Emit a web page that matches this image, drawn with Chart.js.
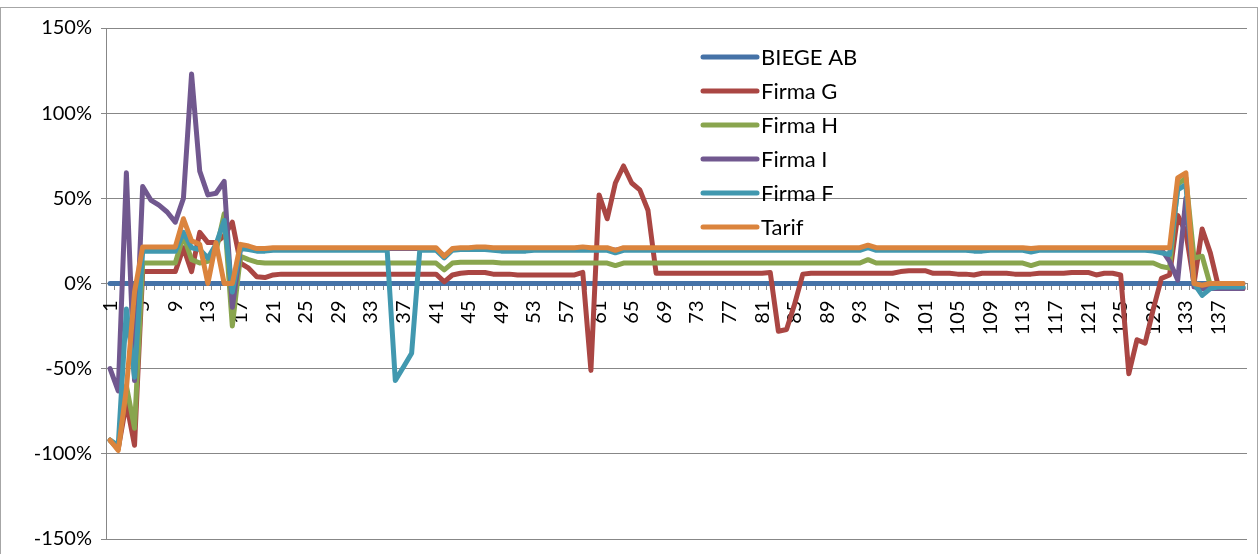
<!DOCTYPE html>
<html>
<head>
<meta charset="utf-8">
<script src="https://cdn.jsdelivr.net/npm/chart.js@4/dist/chart.umd.min.js"></script>
<style>
  html, body { margin: 0; padding: 0; background: #ffffff; }
  #wrap { width: 1258px; height: 554px; position: relative; }
</style>
</head>
<body>
<div id="wrap"><canvas id="chart" width="1258" height="554"></canvas></div>
<script>
// Period numbers along the category axis
const categories = [
  1, 2, 3, 4, 5, 6, 7, 8, 9, 10,
  11, 12, 13, 14, 15, 16, 17, 18, 19, 20,
  21, 22, 23, 24, 25, 26, 27, 28, 29, 30,
  31, 32, 33, 34, 35, 36, 37, 38, 39, 40,
  41, 42, 43, 44, 45, 46, 47, 48, 49, 50,
  51, 52, 53, 54, 55, 56, 57, 58, 59, 60,
  61, 62, 63, 64, 65, 66, 67, 68, 69, 70,
  71, 72, 73, 74, 75, 76, 77, 78, 79, 80,
  81, 82, 83, 84, 85, 86, 87, 88, 89, 90,
  91, 92, 93, 94, 95, 96, 97, 98, 99, 100,
  101, 102, 103, 104, 105, 106, 107, 108, 109, 110,
  111, 112, 113, 114, 115, 116, 117, 118, 119, 120,
  121, 122, 123, 124, 125, 126, 127, 128, 129, 130,
  131, 132, 133, 134, 135, 136, 137, 138, 139, 140
];

// Series values in percent
const biegeAB = [
  0, 0, 0, 0, 0, 0, 0, 0, 0, 0,
  0, 0, 0, 0, 0, 0, 0, 0, 0, 0,
  0, 0, 0, 0, 0, 0, 0, 0, 0, 0,
  0, 0, 0, 0, 0, 0, 0, 0, 0, 0,
  0, 0, 0, 0, 0, 0, 0, 0, 0, 0,
  0, 0, 0, 0, 0, 0, 0, 0, 0, 0,
  0, 0, 0, 0, 0, 0, 0, 0, 0, 0,
  0, 0, 0, 0, 0, 0, 0, 0, 0, 0,
  0, 0, 0, 0, 0, 0, 0, 0, 0, 0,
  0, 0, 0, 0, 0, 0, 0, 0, 0, 0,
  0, 0, 0, 0, 0, 0, 0, 0, 0, 0,
  0, 0, 0, 0, 0, 0, 0, 0, 0, 0,
  0, 0, 0, 0, 0, 0, 0, 0, 0, 0,
  0, 0, 0, 0, 0, 0, 0, 0, 0, 0
];

const firmaG = [
  -92, -97, -70, -95, 7, 7, 7, 7, 7, 21,
  7, 30, 24, 24, 28, 36, 12, 9, 4, 3.5,
  5, 5.5, 5.5, 5.5, 5.5, 5.5, 5.5, 5.5, 5.5, 5.5,
  5.5, 5.5, 5.5, 5.5, 5.5, 5.5, 5.5, 5.5, 5.5, 5.5,
  5.5, 1, 5, 6, 6.5, 6.5, 6.5, 5.5, 5.5, 5.5,
  5, 5, 5, 5, 5, 5, 5, 5, 6.5, -51,
  52, 38, 59, 69, 59, 55, 43, 6, 6, 6,
  6, 6, 6, 6, 6, 6, 6, 6, 6, 6,
  6, 6.5, -28, -27, -12, 5.5, 6, 6, 6, 6,
  6, 6, 6, 6, 6, 6, 6, 7, 7.5, 7.5,
  7.5, 6, 6, 6, 5.5, 5.5, 5, 6, 6, 6,
  6, 5.5, 5.5, 5.5, 6, 6, 6, 6, 6.5, 6.5,
  6.5, 5, 6, 6, 5, -53, -33, -35, -15, 3,
  5, 40, 30, 0, 32, 18, -2, -3, -3, -3
];

const firmaH = [
  -92, -97, -60, -85, 12, 12, 12, 12, 12, 28,
  14, 12, 13, 19, 41, -25, 16, 14, 12.5, 12,
  12, 12, 12, 12, 12, 12, 12, 12, 12, 12,
  12, 12, 12, 12, 12, 12, 12, 12, 12, 12,
  12, 8, 12, 12.5, 12.5, 12.5, 12.5, 12.5, 12, 12,
  12, 12, 12, 12, 12, 12, 12, 12, 12, 12,
  12, 12, 10.5, 12, 12, 12, 12, 12, 12, 12,
  12, 12, 12, 12, 12, 12, 12, 12, 12, 12,
  12, 12, 12, 12, 12, 12, 12, 12, 12, 12,
  12, 12, 12, 14, 12, 12, 12, 12, 12, 12,
  12, 12, 12, 12, 12, 12, 12, 12, 12, 12,
  12, 12, 12, 10.5, 12, 12, 12, 12, 12, 12,
  12, 12, 12, 12, 12, 12, 12, 12, 12, 10,
  9, 58, 62, 15, 16, -1, -2, -2, -2, -2
];

const firmaI = [
  -50, -63, 65, -57, 57, 49, 46, 42, 36, 50,
  123, 66, 52, 53, 60, -14, 20.5, 20.5, 20, 20,
  20.5, 20.5, 20.5, 20.5, 20.5, 20.5, 20.5, 20.5, 20.5, 20.5,
  20.5, 20.5, 20.5, 20.5, 20.5, 20.5, 20.5, 20.5, 20.5, 20.5,
  20.5, 16, 20, 20.5, 20.5, 20.5, 20.5, 20.5, 20.5, 20.5,
  20.5, 20.5, 20.5, 20.5, 20.5, 20.5, 20.5, 20.5, 20.5, 20.5,
  20.5, 20.5, 19.5, 20.5, 20.5, 20.5, 20.5, 20.5, 20.5, 20.5,
  20.5, 20.5, 20.5, 20.5, 20.5, 20.5, 20.5, 20.5, 20.5, 20.5,
  20.5, 20.5, 20.5, 20.5, 20.5, 20.5, 20.5, 20.5, 20.5, 20.5,
  20.5, 20.5, 20.5, 22, 20.5, 20.5, 20.5, 20.5, 20.5, 20.5,
  20.5, 20.5, 20.5, 20.5, 20.5, 20.5, 20.5, 20.5, 20.5, 20.5,
  20.5, 20.5, 20.5, 20, 20.5, 20.5, 20.5, 20.5, 20.5, 20.5,
  20.5, 20.5, 20.5, 20.5, 20.5, 20.5, 20.5, 20.5, 20.5, 20,
  13, 2, 50, -2, -3, -3, -3, -3, -3, -3
];

const firmaF = [
  -92, -95, -15, -55, 19, 19, 19, 19, 19, 30,
  21, 20, 15, 23, 37, -5, 20.5, 20, 19, 19,
  19.5, 19.5, 19.5, 19.5, 19.5, 19.5, 19.5, 19.5, 19.5, 19.5,
  19.5, 19.5, 19.5, 19.5, 19.5, -57, -49, -41, 19.5, 19.5,
  19.5, 15, 19.5, 20, 20, 20, 20, 19.5, 19, 19,
  19, 19, 19.5, 19.5, 19.5, 19.5, 19.5, 19.5, 19.5, 19.5,
  19.5, 19.5, 18, 19.5, 19.5, 19.5, 19.5, 19.5, 19.5, 19.5,
  19.5, 19.5, 19.5, 19.5, 19.5, 19.5, 19.5, 19.5, 19.5, 19.5,
  19.5, 19.5, 19.5, 19.5, 19.5, 19.5, 19.5, 19.5, 19.5, 19.5,
  19.5, 19.5, 19.5, 21, 19.5, 19.5, 19.5, 19.5, 19.5, 19.5,
  19.5, 19.5, 19.5, 19.5, 19.5, 19.5, 19, 19, 19.5, 19.5,
  19.5, 19.5, 19.5, 18.5, 19.5, 19.5, 19.5, 19.5, 19.5, 19.5,
  19.5, 19.5, 19.5, 19.5, 19.5, 19.5, 19.5, 19.5, 19, 18,
  17, 55, 58, 0, -7, -3, -2, -2, -2, -2
];

const tarif = [
  -92, -98, -62, -5, 21.5, 21.5, 21.5, 21.5, 21.5, 38,
  25, 23, 0, 24, 0, 0, 23, 22, 20.5, 20.5,
  21, 21, 21, 21, 21, 21, 21, 21, 21, 21,
  21, 21, 21, 21, 21, 21, 21, 21, 21, 21,
  21, 16, 20.5, 21, 21, 21.5, 21.5, 21, 21, 21,
  21, 21, 21, 21, 21, 21, 21, 21, 21.5, 21,
  21, 21, 19.5, 21, 21, 21, 21, 21, 21, 21,
  21, 21, 21, 21, 21, 21, 21, 21, 21, 21,
  21, 21, 21, 21, 21, 21, 21, 21, 21, 21,
  21, 21, 21, 22.5, 21, 21, 21, 21, 21, 21,
  21, 21, 21, 21, 21, 21, 21, 21, 21, 21,
  21, 21, 21, 20.5, 21, 21, 21, 21, 21, 21,
  21, 21, 21, 21, 21, 21, 21, 21, 21, 21,
  21, 62, 65, 0, -1, 0, 0, 0, 0, 0
];

const seriesNames = ['BIEGE AB', 'Firma G', 'Firma H', 'Firma I', 'Firma F', 'Tarif'];
const seriesColors = ['#4572A7', '#AA4643', '#89A54E', '#71588F', '#4198AF', '#DB843D'];
const yTicks = [-150, -100, -50, 0, 50, 100, 150];

const GRID = '#878787';
const FONT = 'Lato, "Liberation Sans", sans-serif';
const LINE_W = 5;

const seriesData = [biegeAB, firmaG, firmaH, firmaI, firmaF, tarif];

// Later series are painted on top of earlier ones
const datasets = seriesData.map((values, i) => ({
  label: seriesNames[i],
  data: values,
  borderColor: seriesColors[i],
  backgroundColor: seriesColors[i],
  borderWidth: LINE_W,
  pointRadius: 0,
  pointHoverRadius: 0,
  tension: 0,
  fill: false,
  borderJoinStyle: 'round',
  borderCapStyle: 'round',
  order: seriesData.length - 1 - i
}));

// White background and outer frame
const frame = {
  id: 'frame',
  beforeDraw(chart) {
    const ctx = chart.ctx;
    ctx.save();
    ctx.fillStyle = '#ffffff';
    ctx.fillRect(0, 0, chart.width, chart.height);
    ctx.strokeStyle = '#a6a6a6';
    ctx.lineWidth = 1;
    ctx.strokeRect(0.5, 7.5, chart.width - 1, chart.height + 10);
    ctx.restore();
  }
};

// Legend list drawn inside the plot area
const insideLegend = {
  id: 'insideLegend',
  afterDatasetsDraw(chart) {
    const ctx = chart.ctx;
    const x0 = 703, x1 = 757, tx = 761, top = 57, step = 34;
    ctx.save();
    chart.data.datasets.forEach((ds, i) => {
      const y = top + i * step;
      ctx.strokeStyle = ds.borderColor;
      ctx.lineWidth = LINE_W;
      ctx.lineCap = 'round';
      ctx.beginPath();
      ctx.moveTo(x0, y);
      ctx.lineTo(x1, y);
      ctx.stroke();
      ctx.fillStyle = '#000000';
      ctx.font = '22px ' + FONT;
      ctx.textAlign = 'left';
      ctx.textBaseline = 'middle';
      ctx.fillText(ds.label, tx, y + 1);
    });
    ctx.restore();
  }
};

new Chart(document.getElementById('chart'), {
  type: 'line',
  data: { labels: categories, datasets },
  plugins: [frame, insideLegend],
  options: {
    responsive: false,
    animation: false,
    devicePixelRatio: 1,
    layout: { padding: { top: 28, right: 11, bottom: 15, left: 0 } },
    plugins: {
      legend: { display: false },
      tooltip: { enabled: false },
      title: { display: false }
    },
    scales: {
      y: {
        position: 'left',
        min: yTicks[0],
        max: yTicks[yTicks.length - 1],
        afterBuildTicks(scale) {
          scale.ticks = yTicks.map(v => ({ value: v }));
        },
        afterFit(scale) {
          scale.width = 106;
          scale.paddingTop = 0;
          scale.paddingBottom = 0;
        },
        ticks: {
          callback: v => v + '%',
          color: '#000000',
          font: { family: FONT, size: 20 },
          padding: 9
        },
        grid: {
          color: GRID,
          lineWidth: 1,
          drawTicks: true,
          tickLength: 5,
          tickColor: GRID
        },
        border: { display: true, color: GRID, width: 1 }
      },
      x: {
        type: 'category',
        offset: true,
        position: { y: 0 },
        afterFit(scale) {
          scale.paddingLeft = 0;
          scale.paddingRight = 0;
        },
        ticks: {
          autoSkip: false,
          minRotation: 90,
          maxRotation: 90,
          color: '#000000',
          font: { family: FONT, size: 20 },
          padding: 11,
          callback: (val, idx) => (idx % 4 === 0 ? categories[idx] : '')
        },
        grid: {
          offset: true,
          drawOnChartArea: false,
          drawTicks: true,
          tickLength: 6,
          tickColor: GRID,
          color: GRID
        },
        border: { display: true, color: GRID }
      }
    }
  }
});
</script>
</body>
</html>
